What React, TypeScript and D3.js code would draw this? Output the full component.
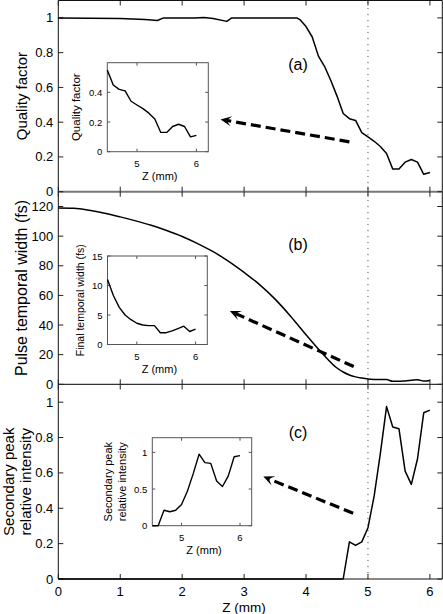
import React from "react";
import * as d3 from "d3";

// ---------- data ----------
const zA = [0, 1.0, 1.4, 1.6, 1.7, 2.2, 2.35, 2.5, 2.72, 2.8, 3.85, 3.9, 4.0, 4.1, 4.2, 4.3, 4.4, 4.5, 4.6, 4.7, 4.8, 4.9, 5.0, 5.1, 5.2, 5.3, 5.4, 5.5, 5.6, 5.7, 5.8, 5.9, 6.0];
const qualityA = [1.0, 0.997, 0.99, 0.985, 1.0, 1.0, 1.002, 0.997, 0.98, 1.0, 1.0, 0.99, 0.95, 0.89, 0.78, 0.72, 0.64, 0.55, 0.45, 0.42, 0.41, 0.34, 0.315, 0.29, 0.26, 0.22, 0.13, 0.13, 0.17, 0.185, 0.17, 0.1, 0.11];

const zB = [0, 0.25, 0.5, 0.75, 1, 1.25, 1.5, 1.75, 2, 2.25, 2.5, 2.75, 3, 3.25, 3.5, 3.75, 4, 4.25, 4.5, 4.6, 4.7, 4.8, 4.9, 5.0, 5.1, 5.2, 5.3, 5.4, 5.5, 5.6, 5.7, 5.8, 5.9, 6.0];
const widthB = [119, 118.8, 117.5, 115.5, 113, 110.3, 107.3, 103.8, 99.8, 95, 89.5, 83, 75.5, 67.3, 57.5, 46, 33.5, 21.5, 11, 8.3, 6.3, 5.0, 4.2, 3.6, 3.3, 3.2, 3.2, 2.0, 2.0, 2.3, 2.7, 3.1, 2.2, 2.6];

const zC = [0, 4.5, 4.6, 4.7, 4.8, 4.9, 5.0, 5.1, 5.2, 5.3, 5.4, 5.5, 5.6, 5.7, 5.8, 5.9, 6.0];
const peakC = [0, 0, 0, 0.21, 0.19, 0.21, 0.29, 0.47, 0.71, 0.975, 0.86, 0.85, 0.61, 0.535, 0.68, 0.94, 0.955];

const mainXTicks = [0, 1, 2, 3, 4, 5, 6];
const ticksA = [0, 0.2, 0.4, 0.6, 0.8, 1];
const ticksB = [0, 20, 40, 60, 80, 100, 120];
const ticksC = [0, 0.2, 0.4, 0.6, 0.8, 1];
const insetXTicks = [5, 6];
const insetTicksA = [0, 0.2, 0.4];
const insetTicksB = [0, 5, 10, 15];
const insetTicksC = [0, 0.5, 1];

const panelLabels = ["(a)", "(b)", "(c)"];
const mainYLabels = [["Quality factor"], ["Pulse temporal width (fs)"], ["Secondary peak", "relative intensity"]];
const insetYLabels = [["Quality factor"], ["Final temporal width (fs)"], ["Secondary peak", "relative intensity"]];
const xLabel = "Z (mm)";
const markerZ = 5;
// arrows in data coordinates: [fromZ, fromY, toZ, toY]
const arrowsData = [
  [4.7, 0.287, 2.62, 0.416],
  [4.77, 12, 2.77, 49.5],
  [4.76, 0.372, 3.31, 0.579],
];
const labelPos = [
  [3.87, 0.73],
  [3.87, 94.6],
  [3.87, 0.83],
];

// ---------- layout ----------
const W = 443;
const H = 614;
const FONT = "'Liberation Sans', Arial, Helvetica, sans-serif";
const x = d3.scaleLinear().domain([0, 6.2]).range([58.3, 442.3]);
const X0 = 58.3;
const X1 = 442.3;

const panels = [
  { top: 0.5, bottom: 191.7, dom: [0, 1.1], ticks: ticksA, z: zA, v: qualityA, curve: d3.curveLinear, ylabFont: 15,
    inset: { x0: 107.3, x1: 208.3, y0: 62.7, y1: 151.7, dom: [0, 0.6], ticks: insetTicksA, labFont: 11.5, labOff: 31 } },
  { top: 191.7, bottom: 384.3, dom: [0, 130], ticks: ticksB, z: zB, v: widthB, curve: d3.curveMonotoneX, ylabFont: 16,
    inset: { x0: 107.5, x1: 207.3, y0: 256, y1: 344.5, dom: [0, 15], ticks: insetTicksB, labFont: 10.5, labOff: 27.5 } },
  { top: 384.5, bottom: 579, dom: [0, 1.1], ticks: ticksC, z: zC, v: peakC, curve: d3.curveLinear, ylabFont: 15,
    inset: { x0: 152.3, x1: 251.7, y0: 437.7, y1: 525.7, dom: [0, 1.2], ticks: insetTicksC, labFont: 11, labOff: 30.6 } },
];

const fmt = (v: number) => String(+v.toFixed(2));

function Arrow({ x1, y1, x2, y2 }: { x1: number; y1: number; x2: number; y2: number }) {
  const dx = x2 - x1;
  const dy = y2 - y1;
  const len = Math.hypot(dx, dy);
  const ux = dx / len;
  const uy = dy / len;
  const L = 11;
  const Wd = 5;
  const nx = -uy;
  const ny = ux;
  const bx = x2 - ux * L;
  const by = y2 - uy * L;
  const mx = x2 - ux * L * 0.55;
  const my = y2 - uy * L * 0.55;
  const head = `M${x2},${y2} L${bx + nx * Wd},${by + ny * Wd} L${mx},${my} L${bx - nx * Wd},${by - ny * Wd} Z`;
  return (
    <g>
      <line x1={x1} y1={y1} x2={mx} y2={my} stroke="#000" strokeWidth={3.2} strokeDasharray="10,5" />
      <path d={head} fill="#000" />
    </g>
  );
}

function Inset({ p, idx }: { p: any; idx: number }) {
  const ins = p.inset;
  const ix = d3.scaleLinear().domain([4.5, 6.2]).range([ins.x0, ins.x1]);
  const iy = d3.scaleLinear().domain(ins.dom).range([ins.y1, ins.y0]);
  const pts = p.z.map((z: number, i: number) => [z, p.v[i]]).filter((d: number[]) => d[0] >= 4.5);
  const line = d3.line<number[]>().x((d) => ix(d[0])).y((d) => iy(d[1]));
  const tl = 3;
  const labs = insetYLabels[idx];
  const cy = (ins.y0 + ins.y1) / 2;
  return (
    <g>
      <rect x={ins.x0} y={ins.y0} width={ins.x1 - ins.x0} height={ins.y1 - ins.y0} fill="#fff" stroke="#555" strokeWidth={1} />
      {insetXTicks.map((t) => (
        <g key={"x" + t}>
          <line x1={ix(t)} x2={ix(t)} y1={ins.y1} y2={ins.y1 - tl} stroke="#555" />
          <line x1={ix(t)} x2={ix(t)} y1={ins.y0} y2={ins.y0 + tl} stroke="#555" />
          <text x={ix(t)} y={ins.y1 + 11.5} fontSize={9.5} textAnchor="middle" dominantBaseline="central" fontFamily={FONT}>{t}</text>
        </g>
      ))}
      {ins.ticks.map((t: number) => (
        <g key={"y" + t}>
          <line x1={ins.x0} x2={ins.x0 + tl} y1={iy(t)} y2={iy(t)} stroke="#555" />
          <line x1={ins.x1} x2={ins.x1 - tl} y1={iy(t)} y2={iy(t)} stroke="#555" />
          <text x={ins.x0 - 5} y={iy(t)} fontSize={9.5} textAnchor="end" dominantBaseline="central" fontFamily={FONT}>{fmt(t)}</text>
        </g>
      ))}
      <path d={line(pts) || ""} fill="none" stroke="#000" strokeWidth={1.4} strokeLinejoin="round" />
      <text x={(ins.x0 + ins.x1) / 2 + 2} y={ins.y1 + 24} fontSize={11} textAnchor="middle" dominantBaseline="central" fontFamily={FONT}>{xLabel}</text>
      {labs.map((s: string, k: number) => {
        const lx = ins.x0 - ins.labOff + (k - (labs.length - 1)) * 14;
        return (
          <text key={k} transform={`translate(${lx},${cy}) rotate(-90)`} fontSize={ins.labFont} textAnchor="middle" dominantBaseline="central" fontFamily={FONT}>{s}</text>
        );
      })}
    </g>
  );
}

function Panel({ p, idx }: { p: any; idx: number }) {
  const y = d3.scaleLinear().domain(p.dom).range([p.bottom, p.top]);
  const line = d3.line<number>().x((_, i) => x(p.z[i])).y((d) => y(d)).curve(p.curve);
  const tl = 5;
  const ad = arrowsData[idx];
  const lp = labelPos[idx];
  const labs = mainYLabels[idx];
  const cy = (p.top + p.bottom) / 2;
  return (
    <g>
      {mainXTicks.map((t) => (
        <g key={"x" + t}>
          <line x1={x(t)} x2={x(t)} y1={p.bottom} y2={p.bottom - tl} stroke="#222" />
          <line x1={x(t)} x2={x(t)} y1={p.top} y2={p.top + tl} stroke="#222" />
        </g>
      ))}
      {p.ticks.map((t: number) => (
        <g key={"y" + t}>
          <line x1={X0} x2={X0 + tl} y1={y(t)} y2={y(t)} stroke="#222" />
          <line x1={X1} x2={X1 - tl} y1={y(t)} y2={y(t)} stroke="#222" />
          <text x={X0 - 5} y={y(t)} fontSize={13} textAnchor="end" dominantBaseline="central" fontFamily={FONT}>{fmt(t)}</text>
        </g>
      ))}
      <path d={line(p.v) || ""} fill="none" stroke="#000" strokeWidth={1.5} strokeLinejoin="round" />
      <text x={x(lp[0])} y={y(lp[1])} fontSize={16} textAnchor="middle" dominantBaseline="central" fontFamily={FONT}>{panelLabels[idx]}</text>
      <Arrow x1={x(ad[0])} y1={y(ad[1])} x2={x(ad[2])} y2={y(ad[3])} />
      {labs.map((s: string, k: number) => {
        const lx = labs.length === 1 ? 21 : 8.5 + k * 16.5;
        return (
          <text key={k} transform={`translate(${lx},${cy}) rotate(-90)`} fontSize={p.ylabFont} textAnchor="middle" dominantBaseline="central" fontFamily={FONT}>{s}</text>
        );
      })}
      <Inset p={p} idx={idx} />
    </g>
  );
}

export default function App() {
  return (
    <div style={{ position: "absolute", left: 0, top: 0, width: W, height: H, background: "#fff" }}>
      <svg width={W} height={H} style={{ display: "block" }}>
        <rect x={0} y={0} width={W} height={H} fill="#fff" />
        {/* frames */}
        <line x1={X0} x2={X0} y1={0.5} y2={579} stroke="#111" strokeWidth={1} />
        <line x1={X1} x2={X1} y1={0.5} y2={579} stroke="#111" strokeWidth={1} />
        <line x1={X0} x2={X1} y1={0.5} y2={0.5} stroke="#111" strokeWidth={1} />
        <line x1={X0} x2={X1} y1={579} y2={579} stroke="#111" strokeWidth={1.2} />
        <line x1={X0} x2={X1} y1={191.7} y2={191.7} stroke="#777" strokeWidth={2} />
        <line x1={X0} x2={X1} y1={384.4} y2={384.4} stroke="#333" strokeWidth={1.3} />
        {/* dotted marker */}
        <line x1={x(markerZ)} x2={x(markerZ)} y1={2} y2={579} stroke="#555" strokeWidth={1} strokeDasharray="1.2,4.8" />
        {panels.map((p, i) => (
          <Panel key={i} p={p} idx={i} />
        ))}
        {mainXTicks.map((t) => (
          <text key={t} x={x(t)} y={591} fontSize={13} textAnchor="middle" dominantBaseline="central" fontFamily={FONT}>{t}</text>
        ))}
        <text x={x(3)} y={607} fontSize={13.5} textAnchor="middle" dominantBaseline="central" fontFamily={FONT}>{xLabel}</text>
      </svg>
    </div>
  );
}
